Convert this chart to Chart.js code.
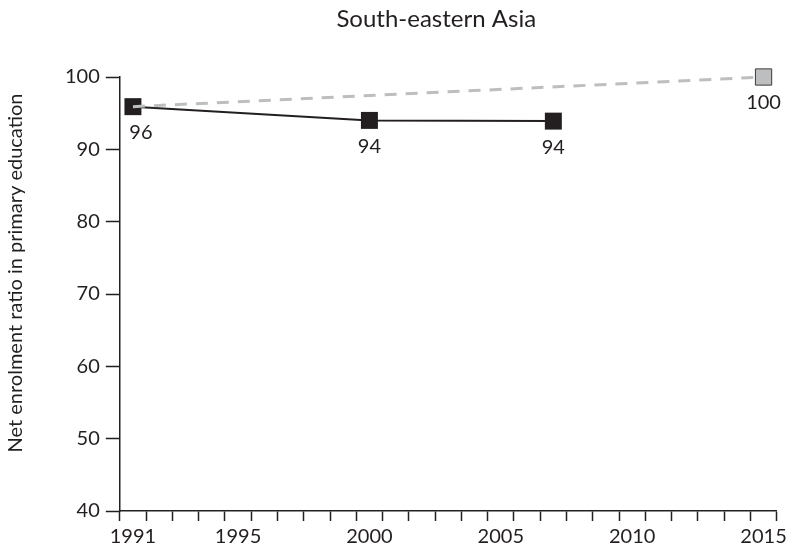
<!DOCTYPE html>
<html lang="en">
<head>
<meta charset="UTF-8">
<title>South-eastern Asia</title>
<script src="https://cdn.jsdelivr.net/npm/chart.js"></script>
<style>
  html, body { margin: 0; padding: 0; background: #fff; }
  #wrap { width: 791px; height: 553px; }
</style>
</head>
<body>
<div id="wrap"><canvas id="chart"></canvas></div>
<script>
// categories (one slot per year)
const years = ['1991', '1992', '1993', '1994', '1995', '1996', '1997', '1998', '1999', '2000',
  '2001', '2002', '2003', '2004', '2005', '2006', '2007', '2008', '2009', '2010',
  '2011', '2012', '2013', '2014', '2015'];
const labelYears = ['1991', '1995', '2000', '2005', '2010', '2015'];

// observed values
const actualYears = ['1991', '2000', '2007'];
const actualValues = [95.9, 94.0, 93.9];
const actualLabels = ['96', '94', '94'];

// target line
const targetYears = ['1991', '2015'];
const targetValues = [95.9, 100];
const targetLabels = ['', '100'];

const ink = '#231f20';
const grey = '#bcbec0';
const fontFamily = 'Lato, "Open Sans", sans-serif';

function toPoints(xs, ys) {
  return xs.map((x, i) => ({ x: x, y: ys[i] }));
}

// draws the value under each point, plus title and y axis label
const textPlugin = {
  id: 'textPlugin',
  afterDatasetsDraw(chart) {
    const ctx = chart.ctx;
    const area = chart.chartArea;
    ctx.save();
    ctx.fillStyle = ink;
    ctx.textAlign = 'center';
    ctx.textBaseline = 'middle';
    ctx.font = '20px ' + fontFamily;
    chart.data.datasets.forEach((ds, i) => {
      const meta = chart.getDatasetMeta(i);
      meta.data.forEach((pt, j) => {
        const txt = ds.valueLabels[j];
        if (!txt) return;
        const dx = pt.x - area.left < 20 ? 8 : 0;
        ctx.fillText(txt, pt.x + dx, pt.y + 26);
      });
    });

    // title
    ctx.font = '24px ' + fontFamily;
    ctx.fillText('South-eastern Asia', (area.left + area.right) / 2 - 12, 19);

    // y axis title
    ctx.translate(16, (area.top + area.bottom) / 2 - 21);
    ctx.rotate(-Math.PI / 2);
    ctx.font = '20px ' + fontFamily;
    ctx.fillText('Net enrolment ratio in primary education', 0, 0);
    ctx.restore();
  }
};

const chart = new Chart(document.getElementById('chart'), {
  type: 'line',
  data: {
    labels: years,
    datasets: [
      {
        label: 'Target',
        data: toPoints(targetYears, targetValues),
        valueLabels: targetLabels,
        borderColor: grey,
        borderWidth: 3,
        borderDash: [12, 9],
        pointStyle: 'rect',
        pointRadius: [0, 11.5],
        pointBackgroundColor: grey,
        pointBorderColor: '#3a3a3a',
        pointBorderWidth: 1,
        clip: false,
        tension: 0
      },
      {
        label: 'Net enrolment ratio',
        data: toPoints(actualYears, actualValues),
        valueLabels: actualLabels,
        borderColor: ink,
        borderWidth: 2,
        pointStyle: 'rect',
        pointRadius: 12,
        pointBackgroundColor: ink,
        pointBorderColor: ink,
        pointBorderWidth: 0,
        clip: false,
        tension: 0
      }
    ]
  },
  options: {
    responsive: true,
    maintainAspectRatio: false,
    animation: false,
    layout: { padding: { top: 77, left: 59, right: 8, bottom: 0 } },
    plugins: {
      legend: { display: false },
      tooltip: { enabled: false },
      title: { display: false }
    },
    scales: {
      x: {
        type: 'category',
        offset: true,
        grid: {
          offset: true,
          drawOnChartArea: false,
          tickLength: 10,
          tickWidth: 1.5,
          tickColor: ink
        },
        border: { color: ink, width: 1.5 },
        ticks: {
          autoSkip: false,
          maxRotation: 0,
          padding: 4,
          color: ink,
          font: { family: fontFamily, size: 20 },
          callback: function (value) {
            const lab = this.getLabelForValue(value);
            return labelYears.includes(lab) ? lab : '';
          }
        }
      },
      y: {
        min: 40,
        max: 100,
        grid: {
          drawOnChartArea: false,
          tickLength: 14,
          tickWidth: 1.5,
          tickColor: ink
        },
        border: { color: ink, width: 1.5 },
        ticks: {
          stepSize: 10,
          padding: 6,
          color: ink,
          font: { family: fontFamily, size: 20 }
        }
      }
    }
  },
  plugins: [textPlugin]
});
</script>
</body>
</html>
